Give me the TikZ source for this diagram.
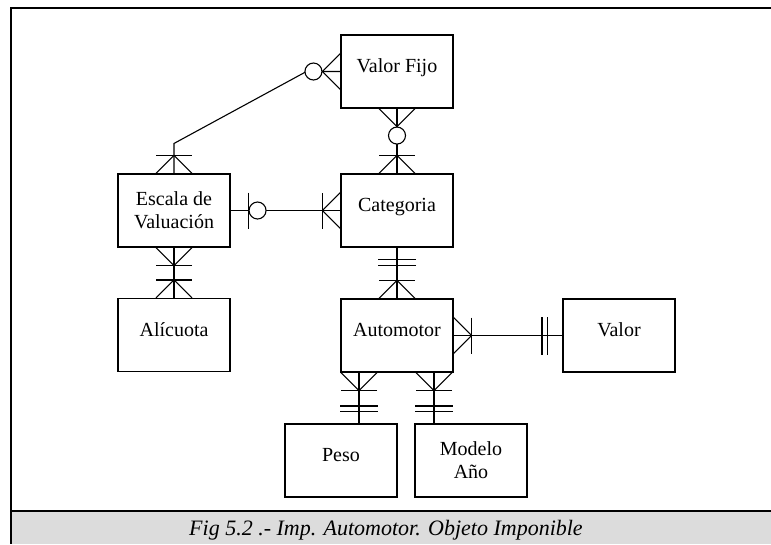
\documentclass[tikz,border=0pt]{standalone}
\usepackage{fontspec}
\setmainfont{Liberation Serif}
\definecolor{capgray}{HTML}{DCDCDC}

\tikzset{
  ent/.style={draw, line width=1.1pt, minimum width=112pt, minimum height=73pt, inner sep=0pt, align=center, font=\fontsize{20}{23}\selectfont},
  ent1/.style={ent, text height=8pt, text depth=6pt},
  link/.style={line width=1.1pt},
  pics/many/.style={code={\draw[link] (0,-18) -- (18,0) -- (0,18);}},
  pics/onemany/.style={code={\draw[link] (0,-18) -- (18,0) -- (0,18); \draw[link] (18,-18) -- (18,18);}},
  pics/zeromany/.style={code={\draw[link] (0,-18) -- (18,0) -- (0,18); \draw[link, fill=white] (27,0) circle[radius=8.5pt];}},
  pics/zeroone/.style={code={\draw[link] (18,-18) -- (18,18); \draw[link, fill=white] (27,0) circle[radius=8.5pt];}},
  pics/onlyone/.style={code={\draw[link] (#1,-19) -- (#1,19); \draw[link] (#1+5.5,-19) -- (#1+5.5,19);}},
}

\begin{document}
\begin{tikzpicture}[x=1pt, y=-1pt]
                \useasboundingbox (0,0) rectangle (771,544);
                % frame and caption band
                \fill[capgray] (11,511) rectangle (771,544);
                \draw[line width=2.4pt] (771,8) -- (11,8) -- (11,544);
                \draw[line width=1.6pt] (11,511) -- (771,511);
                \node[font=\fontsize{22}{26}\selectfont\itshape, anchor=base](cap) at (386,535){Fig 5.2 .- Imp. Automotor. Objeto Imponible};
                % entities
                \node[ent1](e1) at (397,71.5){Valor Fijo};
                \node[ent](e2) at (174,210.5){Escala de\\Valuación};
                \node[ent1](e3) at (397,210.5){Categoria};
                \node[ent1](e4) at (174,335){Alícuota};
                \node[ent1](e5) at (397,335.5){Automotor};
                \node[ent1](e6) at (619,335.5){Valor};
                \node[ent1](e7) at (341,460.5){Peso};
                \node[ent](e8) at (471,460.5){Modelo\\Año};
                \coordinate (p1) at ([xshift=-38]e5.south);
                \coordinate (p2) at ([xshift=37]e5.south);
                % relations
                \draw[link] (e2.north) -- ++(0,-30) -- ([xshift=-34]e1.west) -- (e1.west);
                \draw[link] (e1.south) -- (e3.north);
                \draw[link] (e2.east) -- (e3.west);
                \draw[link] (e2.south) -- (e4.north);
                \draw[link] (e3.south) -- (e5.north);
                \draw[link] (e5.east) -- (e6.west);
                \draw[link] (p1) -- (p1 |- e7.north);
                \draw[link] (p2) -- (p2 |- e8.north);
                % cardinality marks
                \pic[rotate=90] at (e2.north) {onemany};
                \pic[rotate=180] at (e1.west) {zeromany};
                \pic[rotate=-90] at (e1.south) {zeromany};
                \pic[rotate=90] at (e3.north) {onemany};
                \pic at (e2.east) {zeroone};
                \pic[rotate=180] at (e3.west) {onemany};
                \pic[rotate=-90] at (e2.south) {onemany};
                \pic[rotate=90] at (e4.north) {onemany};
                \pic[rotate=-90] at (e3.south) {onlyone=12};
                \pic[rotate=90] at (e5.north) {onemany};
                \pic at (e5.east) {onemany};
                \pic[rotate=180] at (e6.west) {onlyone=15};
                \pic[rotate=-90] at (p1) {onemany};
                \pic[rotate=90] at (p1 |- e7.north) {onlyone=12};
                \pic[rotate=-90] at (p2) {onemany};
                \pic[rotate=90] at (p2 |- e8.north) {onlyone=12};
\end{tikzpicture}
\end{document}
